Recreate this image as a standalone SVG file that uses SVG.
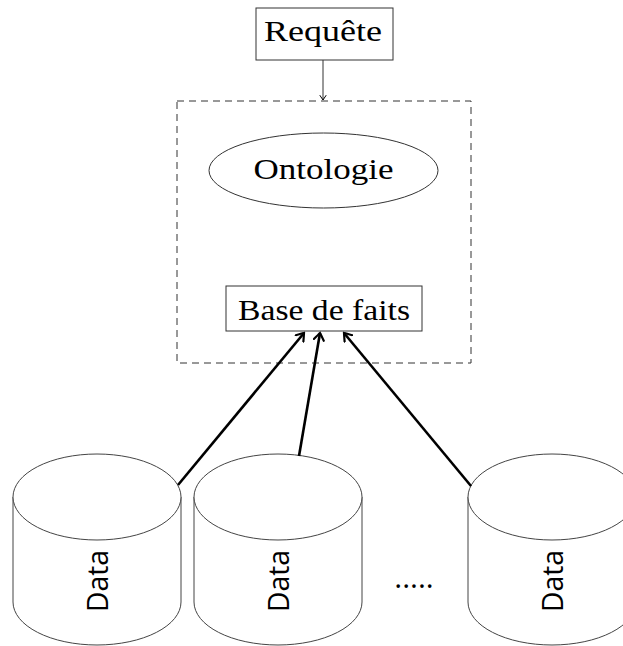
<svg xmlns="http://www.w3.org/2000/svg" width="623" height="646" viewBox="0 0 623 646">
<style>
.box{fill:#fff;stroke:#333;stroke-width:1}
.dash{fill:none;stroke:#333;stroke-width:1;stroke-dasharray:7 5}
.cyl{fill:#fff;stroke:#444;stroke-width:1}
.serif{font-family:"Liberation Serif","DejaVu Serif",serif;font-size:29px;fill:#000}
.sans{font-family:"Open Sans","DejaVu Sans",sans-serif;font-size:30px;fill:#000}
.thin{fill:none;stroke:#333;stroke-width:1}
.thick{fill:none;stroke:#000;stroke-width:2.6}
</style>
<defs>
<marker id="ah" viewBox="-8 -6 10 12" refX="0" refY="0" markerWidth="10" markerHeight="12" markerUnits="userSpaceOnUse" orient="auto">
<path d="M-7,-5 Q-2,-1.5 0,0 Q-2,1.5 -7,5" fill="none" stroke="#000" stroke-width="2.2" stroke-linecap="round"/>
</marker>
<marker id="ahs" viewBox="-6 -4 8 8" refX="0" refY="0" markerWidth="8" markerHeight="8" markerUnits="userSpaceOnUse" orient="auto">
<path d="M-4.5,-3 Q-1.5,-1 0,0 Q-1.5,1 -4.5,3" fill="none" stroke="#000" stroke-width="1" stroke-linecap="round"/>
</marker>
</defs>

<g id="kb">
<rect class="dash" x="177" y="101" width="294" height="262"/>
</g>

<g id="requete">
<rect class="box" x="256" y="8" width="137" height="52"/>
<text class="serif" x="323" y="41" text-anchor="middle" textLength="118" lengthAdjust="spacingAndGlyphs">Requête</text>
</g>

<g id="ontologie">
<ellipse class="box" cx="323.5" cy="170.5" rx="114.5" ry="37.5"/>
<text class="serif" x="323.5" y="179" text-anchor="middle" textLength="140" lengthAdjust="spacingAndGlyphs">Ontologie</text>
</g>

<g id="base">
<rect class="box" x="226" y="286" width="196" height="45"/>
<text class="serif" x="324" y="320" text-anchor="middle" textLength="172" lengthAdjust="spacingAndGlyphs">Base de faits</text>
</g>

<g id="data1">
<path class="cyl" d="M13,497 L13,602 A84,43 0 0 0 181,602 L181,497"/>
<ellipse class="cyl" cx="97" cy="497" rx="84" ry="43"/>
<text class="sans" transform="translate(108,581) rotate(-90)" text-anchor="middle" textLength="62" lengthAdjust="spacingAndGlyphs">Data</text>
</g>

<g id="data2">
<path class="cyl" d="M194,497 L194,602 A84,43 0 0 0 362,602 L362,497"/>
<ellipse class="cyl" cx="278" cy="497" rx="84" ry="43"/>
<text class="sans" transform="translate(289,581) rotate(-90)" text-anchor="middle" textLength="62" lengthAdjust="spacingAndGlyphs">Data</text>
</g>

<g id="dots">
<text class="sans" x="414" y="588" text-anchor="middle">.....</text>
</g>

<g id="data3">
<path class="cyl" d="M468,497 L468,602 A84,43 0 0 0 636,602 L636,497"/>
<ellipse class="cyl" cx="552" cy="497" rx="84" ry="43"/>
<text class="sans" transform="translate(563,581) rotate(-90)" text-anchor="middle" textLength="62" lengthAdjust="spacingAndGlyphs">Data</text>
</g>

<g id="connectors">
<line class="thin" x1="323" y1="60" x2="323" y2="100" marker-end="url(#ahs)"/>
<line class="thick" x1="178" y1="485" x2="304" y2="333" marker-end="url(#ah)"/>
<line class="thick" x1="299" y1="456" x2="320" y2="333" marker-end="url(#ah)"/>
<line class="thick" x1="471" y1="486" x2="344" y2="333" marker-end="url(#ah)"/>
</g>
</svg>
